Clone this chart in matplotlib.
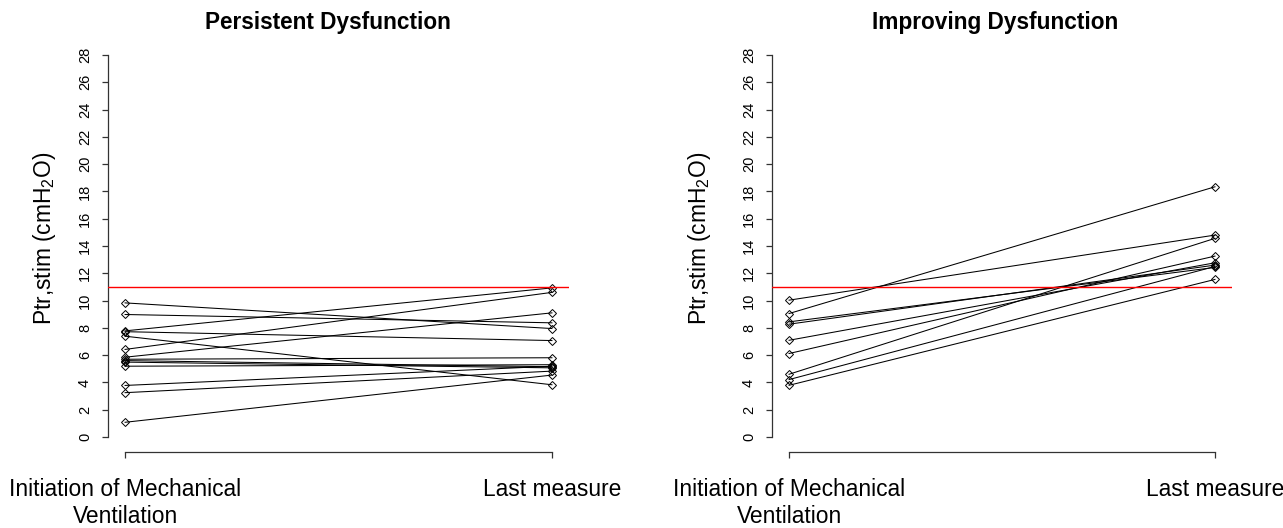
import matplotlib
matplotlib.use("Agg")
import matplotlib.pyplot as plt

plt.rcParams['font.family'] = ['Liberation Sans', 'DejaVu Sans']
plt.rcParams['mathtext.fontset'] = 'custom'
plt.rcParams['mathtext.rm'] = 'Liberation Sans'

# ---- data ----
time_labels = ["Initiation of Mechanical\nVentilation", "Last measure"]
panel_titles = ["Persistent Dysfunction", "Improving Dysfunction"]
y_ticks = list(range(0, 29, 2))
threshold = 11

persistent_initial = [9.83, 8.98, 7.78, 7.72, 7.39, 6.42, 5.85, 5.70, 5.60, 5.49, 5.19, 3.78, 3.25, 1.08]
persistent_last = [7.95, 8.37, 10.93, 7.07, 3.83, 10.60, 9.10, 5.81, 5.15, 5.07, 5.30, 5.19, 4.83, 4.54]

improving_initial = [10.03, 9.05, 8.44, 8.27, 7.09, 6.12, 4.60, 4.21, 3.79]
improving_last = [14.80, 18.34, 12.43, 12.60, 12.77, 13.26, 14.56, 12.50, 11.55]

W, H = 1283, 528
fig = plt.figure(figsize=(W / 100, H / 100), dpi=100)

def px_rect(l, r, top, bottom):
    return [l / W, 1 - bottom / H, (r - l) / W, (bottom - top) / H]

panels = [
    (px_rect(108, 569, 39.7, 452.3), persistent_initial, persistent_last, 328, 45),
    (px_rect(772, 1232, 39.7, 452.3), improving_initial, improving_last, 995, 700),
]

for i, (rect, init, last, title_x, ylab_x) in enumerate(panels):
    ax = fig.add_axes(rect)
    for a, b in zip(init, last):
        ax.plot([1, 2], [a, b], color='black', lw=0.75,
                marker='D', ms=4, mfc='none', mec='black', mew=0.7, zorder=2)
    ax.axhline(threshold, color='#ff0000', lw=1.0, zorder=3)
    ax.set_xlim(0.96, 2.04)
    ax.set_ylim(-1.12, 29.12)
    for s in ['top', 'right']:
        ax.spines[s].set_visible(False)
    ax.spines['left'].set_bounds(0, 28)
    ax.spines['bottom'].set_bounds(1, 2)
    for s in ['left', 'bottom']:
        ax.spines[s].set_linewidth(0.9)
        ax.spines[s].set_color('#333333')
    ax.set_yticks(y_ticks)
    ax.set_yticklabels([str(t) for t in y_ticks], fontsize=10.5, rotation=90, va='center')
    ax.set_xticks([1, 2])
    ax.set_xticklabels(time_labels, fontsize=16.4, linespacing=1.2)
    ax.tick_params(axis='y', direction='out', length=4.5, width=0.9, pad=7, color='#333333')
    ax.tick_params(axis='x', direction='out', length=4.5, width=0.9, pad=14, color='#333333')
    fig.text(title_x / W, 1 - 22 / H, panel_titles[i], fontsize=16.3, fontweight='bold',
             ha='center', va='center')
    fig.text(ylab_x / W, 1 - 238 / H, r'Ptr,stim (cmH$_\mathregular{2}$O)', fontsize=16.4,
             rotation=90, ha='center', va='center')

fig.savefig("out.png", dpi=100)
